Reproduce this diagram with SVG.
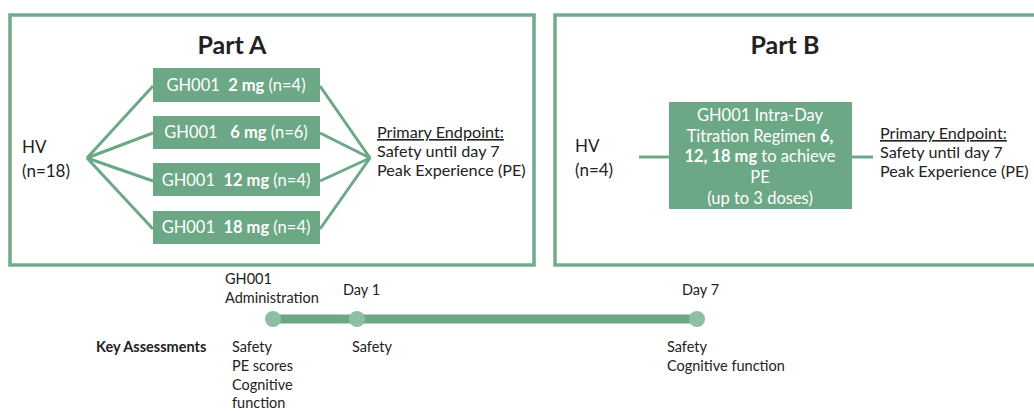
<svg xmlns="http://www.w3.org/2000/svg" width="1034" height="411" viewBox="0 0 1034 411">
<style>
text{font-family:Lato,"Open Sans","Liberation Sans",sans-serif;fill:#222}
.frame{fill:none;stroke:#72aa8b;stroke-width:3.5}
.box{fill:#6ca886}
.bt{fill:#fff;font-size:16.5px;text-anchor:middle;white-space:pre}
.title{font-size:25px;font-weight:bold;text-anchor:middle}
.lbl{font-size:16.2px}
.hv{font-size:17px}
.ul{text-decoration:underline}
.b{font-weight:bold}
.con{stroke:#6ca886;stroke-width:3;fill:none}
.tl{font-size:14.5px}
.dot{fill:#8dbfa1}
</style>
<rect width="1034" height="411" fill="#fff"/>
<g id="partA">
<rect class="frame" x="10" y="15" width="524" height="250"/>
<text class="title" x="232" y="54">Part A</text>
</g>
<g id="partB">
<rect class="frame" x="555" y="15" width="500" height="250"/>
<text class="title" x="785" y="54">Part B</text>
</g>
<g id="connectors">
<line class="con" x1="87" y1="158" x2="153" y2="86"/>
<line class="con" x1="87" y1="158" x2="153" y2="133"/>
<line class="con" x1="87" y1="158" x2="153" y2="181"/>
<line class="con" x1="87" y1="158" x2="153" y2="229"/>
<line class="con" x1="320" y1="86" x2="370" y2="158"/>
<line class="con" x1="320" y1="133" x2="370" y2="158"/>
<line class="con" x1="320" y1="181" x2="370" y2="158"/>
<line class="con" x1="320" y1="229" x2="370" y2="158"/>
<line class="con" x1="639" y1="157" x2="669" y2="157"/>
<line class="con" x1="852" y1="157" x2="873" y2="157"/>
</g>
<g id="hvA"><text class="hv" x="22" y="153">HV</text><text class="hv" x="22" y="177">(n=18)</text></g>
<g id="dose2"><rect class="box" x="153" y="68" width="167" height="34"/><text class="bt" x="236" y="91">GH001  <tspan class="b">2 mg</tspan> (n=4)</text></g>
<g id="dose6"><rect class="box" x="153" y="116" width="167" height="33"/><text class="bt" x="236" y="138">GH001   <tspan class="b">6 mg</tspan> (n=6)</text></g>
<g id="dose12"><rect class="box" x="153" y="163" width="167" height="33"/><text class="bt" x="236" y="186">GH001  <tspan class="b">12 mg</tspan> (n=4)</text></g>
<g id="dose18"><rect class="box" x="153" y="211" width="167" height="33"/><text class="bt" x="236" y="233">GH001  <tspan class="b">18 mg</tspan> (n=4)</text></g>
<g id="endpointA">
<text class="lbl ul" x="377" y="138">Primary Endpoint:</text>
<text class="lbl" x="377" y="157">Safety until day 7</text>
<text class="lbl" x="377" y="176">Peak Experience (PE)</text>
</g>
<g id="hvB"><text class="hv" x="575" y="152">HV</text><text class="hv" x="575" y="176">(n=4)</text></g>
<g id="titration">
<rect class="box" x="669" y="102" width="183" height="107"/>
<text class="bt" x="760" y="121">GH001 Intra-Day</text>
<text class="bt" x="760" y="142">Titration Regimen <tspan class="b">6,</tspan></text>
<text class="bt" x="760" y="162"><tspan class="b">12, 18 mg</tspan> to achieve</text>
<text class="bt" x="760" y="183">PE</text>
<text class="bt" x="760" y="204">(up to 3 doses)</text>
</g>
<g id="endpointB">
<text class="lbl ul" x="880" y="139">Primary Endpoint:</text>
<text class="lbl" x="880" y="158">Safety until day 7</text>
<text class="lbl" x="880" y="177">Peak Experience (PE)</text>
</g>
<g id="timeline">
<line x1="273" y1="319" x2="697" y2="319" stroke="#6ca886" stroke-width="9"/>
<circle class="dot" cx="273" cy="319" r="8"/>
<circle class="dot" cx="357" cy="319" r="8"/>
<circle class="dot" cx="697" cy="319" r="8"/>
<text class="tl" x="225" y="284">GH001</text>
<text class="tl" x="225" y="303">Administration</text>
<text class="tl" x="343" y="295">Day 1</text>
<text class="tl" x="682" y="295">Day 7</text>
<text class="tl b" x="96" y="352">Key Assessments</text>
<text class="tl" x="232" y="352">Safety</text>
<text class="tl" x="232" y="371">PE scores</text>
<text class="tl" x="232" y="390">Cognitive</text>
<text class="tl" x="232" y="408">function</text>
<text class="tl" x="352" y="352">Safety</text>
<text class="tl" x="667" y="352">Safety</text>
<text class="tl" x="667" y="371">Cognitive function</text>
</g>
</svg>
